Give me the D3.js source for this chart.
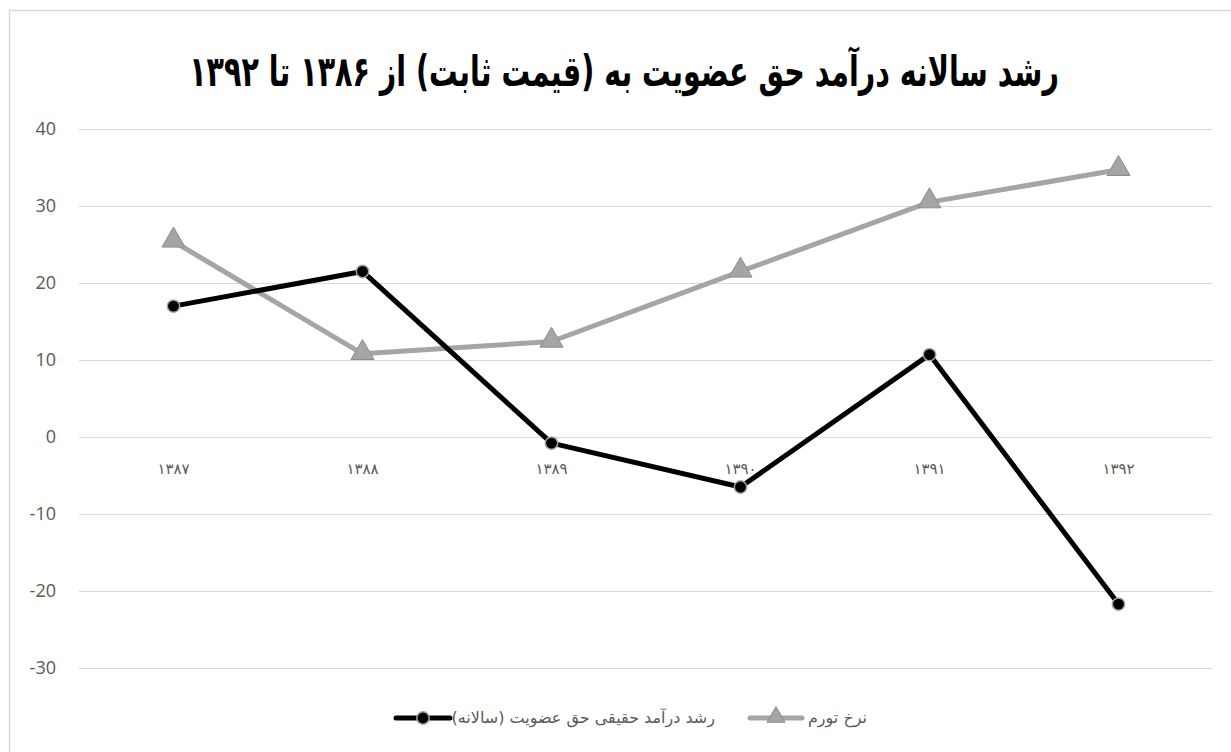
<!DOCTYPE html>
<meta charset="utf-8">
<style>
body {
  margin: 0;
  background-color: #ffffff;
}
.grid line {
  stroke: #d9d9d9;
  stroke-width: 1.3px;
  shape-rendering: crispEdges;
}
.ylab {
  font-family: "Open Sans", "DejaVu Sans", sans-serif;
  font-size: 18px;
  fill: #595959;
}
.xlab, .leg {
  font-family: "DejaVu Sans", sans-serif;
  font-size: 15px;
  fill: #595959;
}
.leg { font-size: 16px; }
</style>
<svg width="1231" height="752"></svg>
<script src="https://d3js.org/d3.v7.min.js"></script>
<script>
var years = ["۱۳۸۷", "۱۳۸۸", "۱۳۸۹", "۱۳۹۰", "۱۳۹۱", "۱۳۹۲"];
var revenueGrowth = [17.0, 21.5, -0.8, -6.5, 10.7, -21.7];
var inflation = [25.4, 10.8, 12.4, 21.5, 30.5, 34.7];
var yTicks = [-30, -20, -10, 0, 10, 20, 30, 40];

var titleText = "رشد سالانه درآمد حق عضویت  به (قیمت ثابت) از ۱۳۸۶ تا ۱۳۹۲";
var revenueName = "رشد درآمد حقیقی حق عضویت (سالانه)";
var inflationName = "نرخ تورم";

var svg = d3.select("svg");

// chart frame
svg.append("rect")
    .attr("x", 9.5).attr("y", 10.5)
    .attr("width", 1240).attr("height", 760)
    .attr("fill", "none")
    .attr("stroke", "#d9d9d9")
    .attr("stroke-width", 1.5);

var x = d3.scaleBand().domain(years).range([79, 1213]);
var y = d3.scaleLinear().domain([-30, 40]).range([668, 129]);

// gridlines
svg.append("g").attr("class", "grid")
  .selectAll("line")
  .data(yTicks)
  .enter().append("line")
    .attr("x1", 79).attr("x2", 1213)
    .attr("y1", function(d) { return Math.round(y(d)) + 0.5; })
    .attr("y2", function(d) { return Math.round(y(d)) + 0.5; });

// y labels
svg.append("g")
  .selectAll("text")
  .data(yTicks)
  .enter().append("text")
    .attr("class", "ylab")
    .attr("x", 56)
    .attr("y", function(d) { return y(d) + 6; })
    .attr("text-anchor", "end")
    .text(function(d) { return d; });

// x labels, sitting just below the zero line
svg.append("g")
  .selectAll("text")
  .data(years)
  .enter().append("text")
    .attr("class", "xlab")
    .attr("x", function(d) { return x(d) + x.bandwidth() / 2; })
    .attr("y", y(0) + 37)
    .attr("text-anchor", "middle")
    .text(function(d) { return d; });

var line = d3.line()
    .x(function(d, i) { return x(years[i]) + x.bandwidth() / 2; })
    .y(function(d) { return y(d); });

var tri = d3.symbol().type(d3.symbolTriangle).size(230);

// inflation series (gray, triangles)
svg.append("path")
    .datum(inflation)
    .attr("d", line)
    .attr("fill", "none")
    .attr("stroke", "#a5a5a5")
    .attr("stroke-width", 5)
    .attr("stroke-linejoin", "round");

svg.append("g")
  .selectAll("path")
  .data(inflation)
  .enter().append("path")
    .attr("d", tri)
    .attr("transform", function(d, i) {
      return "translate(" + (x(years[i]) + x.bandwidth() / 2) + "," + (y(d) - 1) + ")";
    })
    .attr("fill", "#a5a5a5")
    .attr("stroke", "#8c8c8c")
    .attr("stroke-width", 1);

// revenue growth series (black, circles)
svg.append("path")
    .datum(revenueGrowth)
    .attr("d", line)
    .attr("fill", "none")
    .attr("stroke", "#000000")
    .attr("stroke-width", 5)
    .attr("stroke-linejoin", "round");

svg.append("g")
  .selectAll("circle")
  .data(revenueGrowth)
  .enter().append("circle")
    .attr("cx", function(d, i) { return x(years[i]) + x.bandwidth() / 2; })
    .attr("cy", function(d) { return y(d); })
    .attr("r", 6.2)
    .attr("fill", "#000000")
    .attr("stroke", "#a6a6a6")
    .attr("stroke-width", 1.5);

// title: heavy condensed look, squeezed horizontally
svg.append("g")
    .attr("transform", "translate(624,86) scale(0.68,1)")
  .append("text")
    .attr("x", 0)
    .attr("y", 0)
    .attr("text-anchor", "middle")
    .attr("direction", "rtl")
    .style("font-family", "'DejaVu Sans', sans-serif")
    .style("font-weight", "bold")
    .style("font-size", "42px")
    .attr("fill", "#000")
    .text(titleText);

// legend
var legY = 718;
var lg = svg.append("g");

lg.append("line")
    .attr("x1", 396).attr("x2", 450)
    .attr("y1", legY).attr("y2", legY)
    .attr("stroke", "#000").attr("stroke-width", 5).attr("stroke-linecap", "round");
lg.append("circle")
    .attr("cx", 423).attr("cy", legY).attr("r", 6.2)
    .attr("fill", "#000").attr("stroke", "#a6a6a6").attr("stroke-width", 1.5);
lg.append("text")
    .attr("class", "leg")
    .attr("x", 715).attr("y", legY + 5)
    .attr("direction", "rtl")
    .attr("text-anchor", "start")
    .text(revenueName);

lg.append("line")
    .attr("x1", 750).attr("x2", 802)
    .attr("y1", legY).attr("y2", legY)
    .attr("stroke", "#a5a5a5").attr("stroke-width", 5).attr("stroke-linecap", "round");
lg.append("path")
    .attr("d", d3.symbol().type(d3.symbolTriangle).size(140))
    .attr("transform", "translate(776," + (legY - 1) + ")")
    .attr("fill", "#a5a5a5").attr("stroke", "#8c8c8c").attr("stroke-width", 1);
lg.append("text")
    .attr("class", "leg")
    .attr("x", 867).attr("y", legY + 5)
    .attr("direction", "rtl")
    .attr("text-anchor", "start")
    .text(inflationName);
</script>
